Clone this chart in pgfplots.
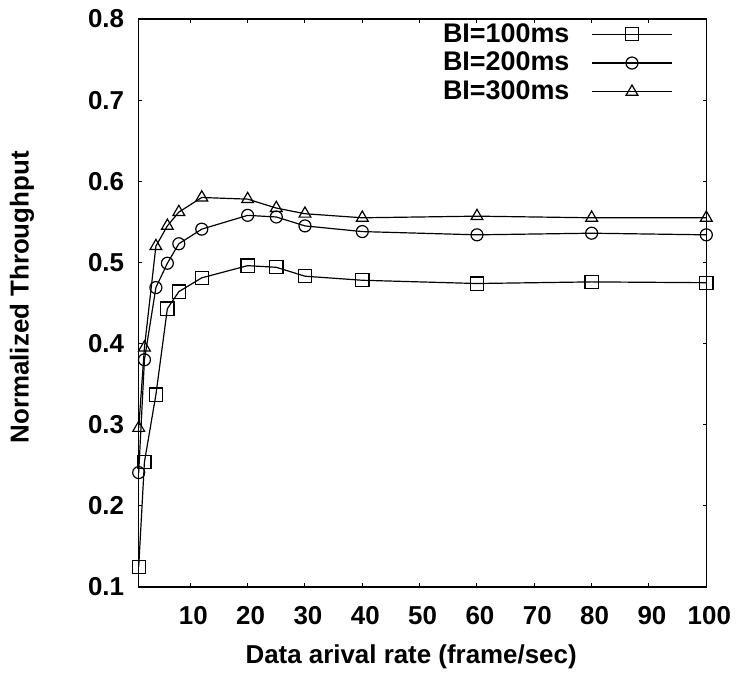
\documentclass[border=0pt]{standalone}
\usepackage{fontspec}
\setmainfont{Liberation Sans}
\usepackage{pgfplots}
\pgfplotsset{compat=1.18}

\newcommand{\lblfont}{\fontsize{13}{15}\selectfont\bfseries}
\newcommand{\legfont}{\fontsize{13.5}{16}\selectfont\bfseries}

\begin{document}
\begin{tikzpicture}
\begin{axis}[
  scale only axis,
  width=283.8bp, height=284bp,
  xmin=1, xmax=100, ymin=0.1, ymax=0.8,
  xtick={10,20,30,40,50,60,70,80,90,100},
  ytick={0.1,0.2,0.3,0.4,0.5,0.6,0.7,0.8},
  tick align=inside,
  major tick length=1.8bp,
  axis line style={line width=0.6pt},
  every tick/.style={black, line width=0.5pt},
  tick label style={font=\lblfont},
  /pgf/number format/assume math mode=true,
  yticklabel style={/pgf/number format/.cd, fixed, fixed zerofill, precision=1, /tikz/.cd, xshift=-3.8bp},
  xticklabel style={yshift=-6.3bp, xshift=1.5bp},
  xlabel={Data arival rate (frame/sec)},
  ylabel={Normalized Throughput},
  xlabel style={font=\lblfont, at={(axis description cs:0.48,0)}, anchor=center, yshift=-35bp},
  ylabel style={font=\lblfont, at={(axis description cs:-0.2056,0.51)}, anchor=center},
  legend plot pos=right,
  legend cell align=right,
  legend image code/.code={\path (0bp,0bp); \draw[mark repeat=2,mark phase=2] plot coordinates {(9bp,0bp)(29bp,0bp)(49bp,0bp)};},
  legend style={draw=none, fill=none, at={(axis description cs:0.9413,1.0)}, anchor=north east,
    inner sep=0pt, row sep=-0.5bp, font=\legfont, nodes={inner sep=2bp}},
]
\addplot[black, line width=0.6pt, mark=square, mark size=3.3bp, mark options={solid, fill=white}] coordinates {
(1,0.125) (2,0.254) (4,0.337) (6,0.443) (8,0.464) (12,0.481) (20,0.496) (25,0.494) (30,0.483) (40,0.478) (60,0.474) (80,0.476) (100,0.475)};
\addplot[black, line width=0.6pt, mark=o, mark size=3bp, mark options={solid, fill=white}] coordinates {
(1,0.241) (2,0.380) (4,0.469) (6,0.499) (8,0.523) (12,0.541) (20,0.558) (25,0.556) (30,0.545) (40,0.538) (60,0.534) (80,0.536) (100,0.534)};
\addplot[black, line width=0.6pt, mark=triangle, mark size=3.4bp, mark options={solid, fill=white}] coordinates {
(1,0.296) (2,0.395) (4,0.520) (6,0.545) (8,0.562) (12,0.580) (20,0.578) (25,0.567) (30,0.560) (40,0.555) (60,0.557) (80,0.555) (100,0.555)};
\legend{BI=100ms,BI=200ms,BI=300ms}
\end{axis}
\pgfresetboundingbox
\path[use as bounding box] ([shift={(-69.35bp,-44bp)}]current axis.south west) rectangle ([shift={(15.35bp,9.5bp)}]current axis.north east);
\end{tikzpicture}
\end{document}
